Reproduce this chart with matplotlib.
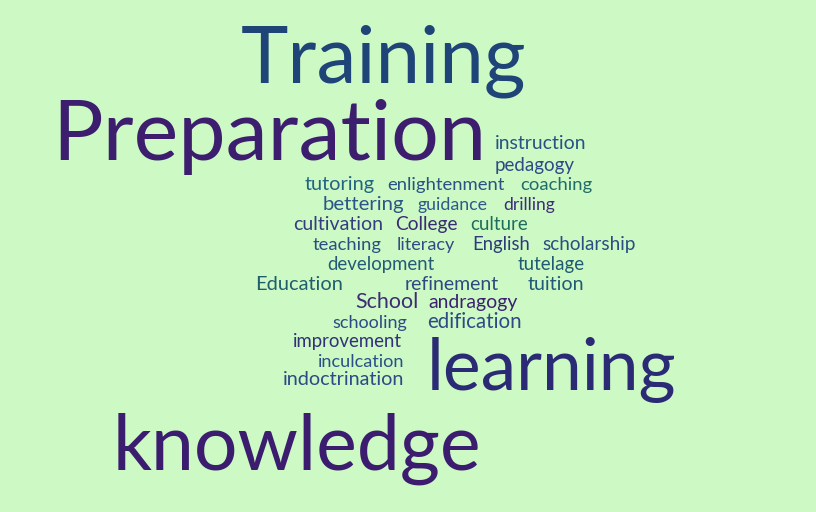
import matplotlib
matplotlib.use("Agg")
import matplotlib.pyplot as plt

# words of the cloud and their relative weight
words = ["Training", "Preparation", "learning", "knowledge",
         "instruction", "pedagogy", "tutoring", "enlightenment", "coaching",
         "bettering", "guidance", "drilling", "cultivation", "College", "culture",
         "teaching", "literacy", "English", "scholarship", "development", "tutelage",
         "Education", "refinement", "tuition", "School", "andragogy", "schooling",
         "edification", "improvement", "inculcation", "indoctrination"]
weights = [10, 10, 9, 10,
           2, 2, 2, 2, 2,
           2, 2, 2, 2, 2, 2,
           2, 2, 2, 2, 2, 2,
           2, 2, 2, 2, 2, 2,
           2, 2, 2, 2]

# layout of the cloud in pixels: left edge, baseline, width
layout = {
    "Training": (241, 82, 287), "Preparation": (52, 160, 435),
    "learning": (427, 390, 251), "knowledge": (113, 470, 370),
    "instruction": (495, 149, 92), "pedagogy": (495, 171, 80),
    "tutoring": (305, 190, 71), "enlightenment": (387, 190, 118),
    "coaching": (520, 190, 72), "bettering": (323, 210, 82),
    "guidance": (418, 210, 70), "drilling": (503, 210, 52),
    "cultivation": (293, 230, 90), "College": (395, 230, 63),
    "culture": (470, 230, 58), "teaching": (313, 250, 69),
    "literacy": (397, 250, 58), "English": (472, 250, 58),
    "scholarship": (542, 250, 93), "development": (327, 270, 108),
    "tutelage": (518, 270, 67), "Education": (255, 290, 88),
    "refinement": (405, 290, 95), "tuition": (528, 290, 57),
    "School": (355, 308, 63), "andragogy": (428, 308, 89),
    "schooling": (332, 328, 75), "edification": (427, 328, 95),
    "improvement": (293, 347, 110), "inculcation": (318, 367, 87),
    "indoctrination": (283, 385, 122),
}

colors = {
    "Training": "#1f4478", "Preparation": "#3c1d6e", "learning": "#2b2a74",
    "knowledge": "#3b1c6e", "instruction": "#2a5085", "pedagogy": "#2d4a88",
    "tutoring": "#236580", "enlightenment": "#2a5282", "coaching": "#1f6c6a",
    "bettering": "#2b5688", "guidance": "#2e5a8a", "drilling": "#3b2e78",
    "cultivation": "#363c80", "College": "#3a2c72", "culture": "#1f6e5c",
    "teaching": "#2a4e80", "literacy": "#2e4c86", "English": "#2c3a7a",
    "scholarship": "#2a4e80", "development": "#245a75", "tutelage": "#1f5a72",
    "Education": "#205e6e", "refinement": "#2d4a80", "tuition": "#215a78",
    "School": "#3d2c75", "andragogy": "#3b2070", "schooling": "#2d4a86",
    "edification": "#2d4a86", "improvement": "#33307a", "inculcation": "#2b5088",
    "indoctrination": "#2d4a86",
}

bg = "#ccf9c4"

fig = plt.figure(figsize=(8.16, 5.12), dpi=100, facecolor=bg)
ax = fig.add_axes([0, 0, 1, 1])
ax.set_facecolor(bg)
ax.set_xlim(0, 816)
ax.set_ylim(512, 0)
ax.axis("off")

renderer = fig.canvas.get_renderer()
for w, wt in zip(words, weights):
    x, y, width = layout[w]
    t = ax.text(x, y, w, fontsize=20, ha="left", va="baseline",
                color=colors[w], family="Lato", fontweight="normal")
    ext = t.get_window_extent(renderer)
    t.set_fontsize(20 * width / ext.width)

fig.savefig("out.png", dpi=100, facecolor=bg)
